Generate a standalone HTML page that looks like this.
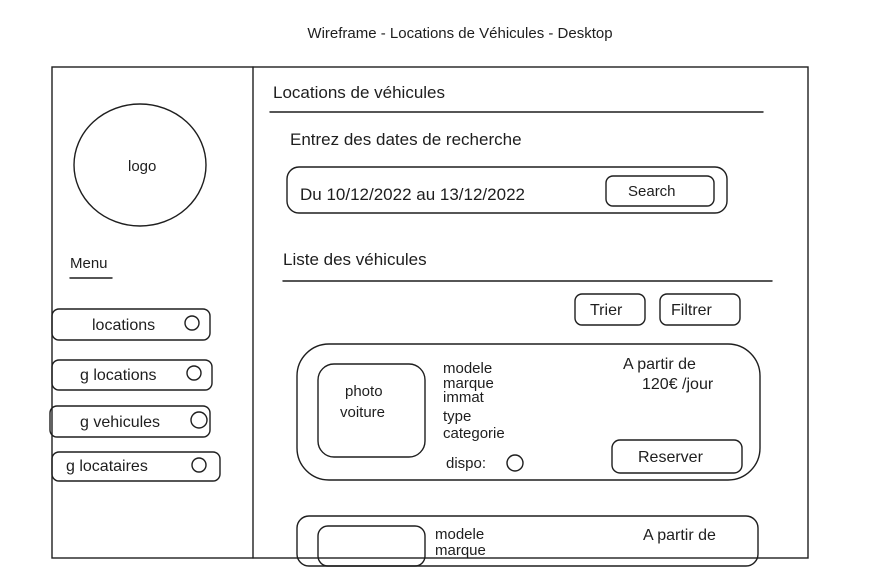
<!DOCTYPE html>
<html><head><meta charset="utf-8"><style>
html,body{margin:0;padding:0;background:#fff;width:875px;height:585px;overflow:hidden}
svg text{font-family:"Liberation Sans",sans-serif;fill:#1e1e1e}
</style></head><body>
<svg width="875" height="585" viewBox="0 0 875 585" xmlns="http://www.w3.org/2000/svg">
<g fill="none" stroke="#1e1e1e" stroke-width="1.4" stroke-linecap="round">
<rect x="52" y="67" width="756" height="491"/>
<line x1="253" y1="67" x2="253" y2="558"/>
<ellipse cx="140" cy="165" rx="66" ry="61"/>
<line x1="70" y1="278" x2="112" y2="278"/>
<rect x="52" y="309" width="158" height="31" rx="7"/>
<rect x="52" y="360" width="160" height="30" rx="7"/>
<rect x="50" y="406" width="160" height="31" rx="7"/>
<rect x="52" y="452" width="168" height="29" rx="7"/>
<circle cx="192" cy="323" r="7"/>
<circle cx="194" cy="373" r="7"/>
<circle cx="199" cy="420" r="8"/>
<circle cx="199" cy="465" r="7"/>
<line x1="270" y1="112" x2="763" y2="112"/>
<rect x="287" y="167" width="440" height="46" rx="12"/>
<rect x="606" y="176" width="108" height="30" rx="7"/>
<line x1="283" y1="281" x2="772" y2="281"/>
<rect x="575" y="294" width="70" height="31" rx="7"/>
<rect x="660" y="294" width="80" height="31" rx="7"/>
<rect x="297" y="344" width="463" height="136" rx="32"/>
<rect x="318" y="364" width="107" height="93" rx="16"/>
<rect x="612" y="440" width="130" height="33" rx="8"/>
<circle cx="515" cy="463" r="8"/>
<rect x="297" y="516" width="461" height="50" rx="12"/>
<rect x="318" y="526" width="107" height="40" rx="10"/>
</g>
<text x="460" y="38" font-size="15" text-anchor="middle">Wireframe - Locations de Véhicules - Desktop</text>
<text x="128" y="171" font-size="15">logo</text>
<text x="70" y="268" font-size="15">Menu</text>
<text x="92" y="330" font-size="16">locations</text>
<text x="80" y="380" font-size="16">g locations</text>
<text x="80" y="427" font-size="16">g vehicules</text>
<text x="66" y="471" font-size="16">g locataires</text>
<text x="273" y="98" font-size="17">Locations de véhicules</text>
<text x="290" y="145" font-size="17">Entrez des dates de recherche</text>
<text x="300" y="200" font-size="17">Du 10/12/2022 au 13/12/2022</text>
<text x="628" y="196" font-size="15">Search</text>
<text x="283" y="265" font-size="17">Liste des véhicules</text>
<text x="590" y="315" font-size="16">Trier</text>
<text x="671" y="315" font-size="16">Filtrer</text>
<text x="345" y="396" font-size="15">photo</text>
<text x="340" y="417" font-size="15">voiture</text>
<text x="443" y="373" font-size="15">modele</text>
<text x="443" y="388" font-size="15">marque</text>
<text x="443" y="402" font-size="15">immat</text>
<text x="443" y="421" font-size="15">type</text>
<text x="443" y="438" font-size="15">categorie</text>
<text x="446" y="468" font-size="15">dispo:</text>
<text x="623" y="369" font-size="16">A partir de</text>
<text x="642" y="389" font-size="16">120€ /jour</text>
<text x="638" y="462" font-size="16">Reserver</text>
<text x="435" y="539" font-size="15">modele</text>
<text x="435" y="555" font-size="15">marque</text>
<text x="643" y="540" font-size="16">A partir de</text>
</svg>
</body></html>
